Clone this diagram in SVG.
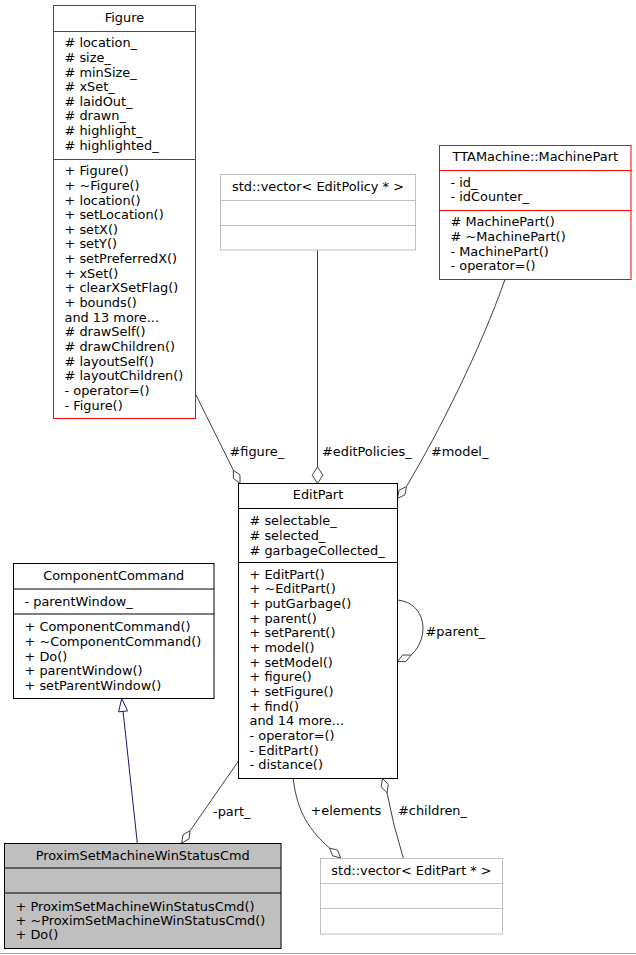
<svg xmlns="http://www.w3.org/2000/svg" width="636" height="955" viewBox="0 0 636 955">
<style>
text{font-family:"DejaVu Sans","Liberation Sans",sans-serif;font-size:12.9px;fill:#000}
.t{text-anchor:middle}
.box{fill:#fff;stroke:#000;stroke-width:1}
.red{fill:#fff;stroke:#ff0000;stroke-width:1}
.gray{fill:#fff;stroke:#bfbfbf;stroke-width:1}
.sel{fill:#bfbfbf;stroke:#000;stroke-width:1}
.sepb{stroke:#000}
.sepr{stroke:#ff0000}
.sepg{stroke:#bfbfbf}
.edge{fill:none;stroke:#404040;stroke-width:1}
.dia{fill:#fff;stroke:#404040;stroke-width:1}
.inh{fill:none;stroke:#191970;stroke-width:1}
.tri{fill:#fff;stroke:#191970;stroke-width:1}
</style>
<rect x="0" y="0" width="636" height="955" fill="#fff"/>
<line x1="0" y1="953.5" x2="636" y2="953.5" stroke="#a0a0a0"/>

<g id="connectors">
  <!-- #figure_ -->
  <line class="edge" x1="196" y1="395" x2="233.3" y2="470.1"/>
  <polygon class="dia" points="240,483.5 240,475.1 233.3,470.1 233.4,478.4"/>
  <text x="229.5" y="455.5">#figure_</text>
  <!-- #editPolicies_ -->
  <line class="edge" x1="317.5" y1="250" x2="317.5" y2="467"/>
  <polygon class="dia" points="317.5,483.5 322.8,475.25 317.5,467 312.2,475.25"/>
  <text x="322" y="455.5">#editPolicies_</text>
  <!-- #model_ -->
  <path class="edge" d="M505,279.5 C480,350 440,430 406.5,486.5"/>
  <polygon class="dia" points="397.5,498.5 404.96,494.72 406.5,486.5 399.04,490.28"/>
  <text x="431" y="455.5">#model_</text>
  <!-- #parent_ -->
  <path class="edge" d="M397.5,600 C427,603 430,638 411.1,655.1"/>
  <polygon class="dia" points="397.5,661.5 405.9,661.6 411.1,655.1 402.7,655"/>
  <text x="425.5" y="636">#parent_</text>
  <!-- inheritance -->
  <line class="inh" x1="137.3" y1="843" x2="123.1" y2="711.4"/>
  <polygon class="tri" points="121.7,698.5 127.6,710.9 118.6,711.9"/>
  <!-- -part_ -->
  <line class="edge" x1="238.5" y1="761" x2="190.2" y2="830.7"/>
  <polygon class="dia" points="181.7,843 189,838.9 190.2,830.7 183,834.7"/>
  <text x="213" y="816">-part_</text>
  <!-- +elements -->
  <path class="edge" d="M293.3,779 C297,812 310,831 329.5,848"/>
  <polygon class="dia" points="340.7,858 337.6,850.2 329.5,848 332.6,855.8"/>
  <text x="310.5" y="815">+elements</text>
  <!-- #children_ -->
  <path class="edge" d="M403.3,858 Q393,825 387,792.8"/>
  <polygon class="dia" points="382.5,778.5 381.2,786.8 387,792.8 388.3,784.5"/>
  <text x="398" y="815">#children_</text>
</g>

<g id="Figure">
  <rect class="red" x="53.5" y="5.5" width="142" height="413"/>
  <line class="sepr" x1="53.5" y1="31.5" x2="195.5" y2="31.5"/>
  <line class="sepr" x1="53.5" y1="159.5" x2="195.5" y2="159.5"/>
  <text class="t" x="124.5" y="21.8">Figure</text>
  <text x="64.5" y="47.2">
    <tspan x="64.5" dy="0"># location_</tspan>
    <tspan x="64.5" dy="14.65"># size_</tspan>
    <tspan x="64.5" dy="14.65"># minSize_</tspan>
    <tspan x="64.5" dy="14.65"># xSet_</tspan>
    <tspan x="64.5" dy="14.65"># laidOut_</tspan>
    <tspan x="64.5" dy="14.65"># drawn_</tspan>
    <tspan x="64.5" dy="14.65"># highlight_</tspan>
    <tspan x="64.5" dy="14.65"># highlighted_</tspan>
  </text>
  <text x="64.5" y="175.2">
    <tspan x="64.5" dy="0">+ Figure()</tspan>
    <tspan x="64.5" dy="14.65">+ ~Figure()</tspan>
    <tspan x="64.5" dy="14.65">+ location()</tspan>
    <tspan x="64.5" dy="14.65">+ setLocation()</tspan>
    <tspan x="64.5" dy="14.65">+ setX()</tspan>
    <tspan x="64.5" dy="14.65">+ setY()</tspan>
    <tspan x="64.5" dy="14.65">+ setPreferredX()</tspan>
    <tspan x="64.5" dy="14.65">+ xSet()</tspan>
    <tspan x="64.5" dy="14.65">+ clearXSetFlag()</tspan>
    <tspan x="64.5" dy="14.65">+ bounds()</tspan>
    <tspan x="64.5" dy="14.65">and 13 more...</tspan>
    <tspan x="64.5" dy="14.65"># drawSelf()</tspan>
    <tspan x="64.5" dy="14.65"># drawChildren()</tspan>
    <tspan x="64.5" dy="14.65"># layoutSelf()</tspan>
    <tspan x="64.5" dy="14.65"># layoutChildren()</tspan>
    <tspan x="64.5" dy="14.65">- operator=()</tspan>
    <tspan x="64.5" dy="14.65">- Figure()</tspan>
  </text>
</g>

<g id="EditPolicyVector">
  <rect class="gray" x="220.5" y="174.5" width="195" height="75.5"/>
  <line class="sepg" x1="220.5" y1="200.5" x2="415.5" y2="200.5"/>
  <line class="sepg" x1="220.5" y1="225.5" x2="415.5" y2="225.5"/>
  <text class="t" x="318" y="191.2">std::vector&lt; EditPolicy * &gt;</text>
</g>

<g id="MachinePart">
  <rect class="red" x="439.5" y="145.5" width="191.5" height="134"/>
  <line class="sepr" x1="439.5" y1="170.5" x2="631" y2="170.5"/>
  <line class="sepr" x1="439.5" y1="210.5" x2="631" y2="210.5"/>
  <text class="t" x="535.3" y="160.5">TTAMachine::MachinePart</text>
  <text x="450.5" y="186.8">
    <tspan x="450.5" dy="0">- id_</tspan>
    <tspan x="450.5" dy="14.65">- idCounter_</tspan>
  </text>
  <text x="450.5" y="226.2">
    <tspan x="450.5" dy="0"># MachinePart()</tspan>
    <tspan x="450.5" dy="14.65"># ~MachinePart()</tspan>
    <tspan x="450.5" dy="14.65">- MachinePart()</tspan>
    <tspan x="450.5" dy="14.65">- operator=()</tspan>
  </text>
</g>

<g id="EditPart">
  <rect class="box" x="238.5" y="483.5" width="159" height="295"/>
  <line class="sepb" x1="238.5" y1="508.5" x2="397.5" y2="508.5"/>
  <line class="sepb" x1="238.5" y1="562.5" x2="397.5" y2="562.5"/>
  <text class="t" x="318" y="499.2">EditPart</text>
  <text x="249.5" y="525.2">
    <tspan x="249.5" dy="0"># selectable_</tspan>
    <tspan x="249.5" dy="14.65"># selected_</tspan>
    <tspan x="249.5" dy="14.65"># garbageCollected_</tspan>
  </text>
  <text x="249.5" y="578.8">
    <tspan x="249.5" dy="0">+ EditPart()</tspan>
    <tspan x="249.5" dy="14.65">+ ~EditPart()</tspan>
    <tspan x="249.5" dy="14.65">+ putGarbage()</tspan>
    <tspan x="249.5" dy="14.65">+ parent()</tspan>
    <tspan x="249.5" dy="14.65">+ setParent()</tspan>
    <tspan x="249.5" dy="14.65">+ model()</tspan>
    <tspan x="249.5" dy="14.65">+ setModel()</tspan>
    <tspan x="249.5" dy="14.65">+ figure()</tspan>
    <tspan x="249.5" dy="14.65">+ setFigure()</tspan>
    <tspan x="249.5" dy="14.65">+ find()</tspan>
    <tspan x="249.5" dy="14.65">and 14 more...</tspan>
    <tspan x="249.5" dy="14.65">- operator=()</tspan>
    <tspan x="249.5" dy="14.65">- EditPart()</tspan>
    <tspan x="249.5" dy="14.65">- distance()</tspan>
  </text>
</g>

<g id="ComponentCommand">
  <rect class="box" x="13.5" y="563.5" width="200.5" height="135"/>
  <line class="sepb" x1="13.5" y1="589" x2="214" y2="589"/>
  <line class="sepb" x1="13.5" y1="614" x2="214" y2="614"/>
  <text class="t" x="113.7" y="579.5">ComponentCommand</text>
  <text x="24.5" y="606.2">- parentWindow_</text>
  <text x="24.5" y="631.2">
    <tspan x="24.5" dy="0">+ ComponentCommand()</tspan>
    <tspan x="24.5" dy="14.65">+ ~ComponentCommand()</tspan>
    <tspan x="24.5" dy="14.65">+ Do()</tspan>
    <tspan x="24.5" dy="14.65">+ parentWindow()</tspan>
    <tspan x="24.5" dy="14.65">+ setParentWindow()</tspan>
  </text>
</g>

<g id="ProximSetMachineWinStatusCmd">
  <rect class="sel" x="4.5" y="843.5" width="276.5" height="105"/>
  <line class="sepb" x1="4.5" y1="868" x2="281" y2="868"/>
  <line class="sepb" x1="4.5" y1="893" x2="281" y2="893"/>
  <text class="t" x="142.7" y="859.5">ProximSetMachineWinStatusCmd</text>
  <text x="15.5" y="910.5">
    <tspan x="15.5" dy="0">+ ProximSetMachineWinStatusCmd()</tspan>
    <tspan x="15.5" dy="14">+ ~ProximSetMachineWinStatusCmd()</tspan>
    <tspan x="15.5" dy="14">+ Do()</tspan>
  </text>
</g>

<g id="EditPartVector">
  <rect class="gray" x="320.5" y="858.5" width="182" height="75.5"/>
  <line class="sepg" x1="320.5" y1="883.5" x2="502.5" y2="883.5"/>
  <line class="sepg" x1="320.5" y1="908.5" x2="502.5" y2="908.5"/>
  <text class="t" x="411.5" y="874.5">std::vector&lt; EditPart * &gt;</text>
</g>
</svg>
